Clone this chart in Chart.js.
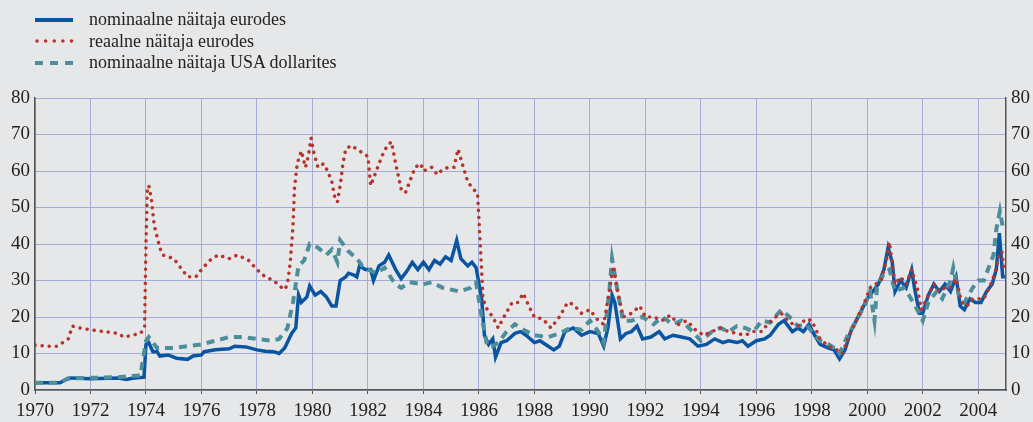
<!DOCTYPE html>
<html>
<head>
<meta charset="utf-8">
<script src="https://cdn.jsdelivr.net/npm/chart.js@4"></script>
<style>
  body { margin: 0; background: #e6e7e9; }
  #wrap { position: relative; width: 1033px; height: 422px; }
  #legend { position: absolute; left: 35px; top: 9px; font-family: "Liberation Serif", serif; font-size: 18px; color: #222; }
  .row { height: 21.5px; display: flex; align-items: center; }
  .row svg { margin-right: 14px; }
</style>
</head>
<body>
<div id="wrap">
  <canvas id="oilChart" width="1033" height="422"></canvas>
  <div id="legend"></div>
</div>
<script>
// series names
const seriesNames = ['nominaalne näitaja eurodes', 'reaalne näitaja eurodes', 'nominaalne näitaja USA dollarites'];

// nominal, EUR
const nomEurYears = [1970, 1970.9, 1971.1, 1971.3, 1972.0, 1973.0, 1973.3, 1973.5, 1973.93, 1974.0, 1974.1, 1974.25, 1974.4, 1974.5, 1974.8, 1975.1, 1975.5, 1975.7, 1976.0, 1976.1, 1976.5, 1977.0, 1977.2, 1977.6, 1978.0, 1978.3, 1978.6, 1978.8, 1979.0, 1979.25, 1979.4, 1979.5, 1979.6, 1979.8, 1979.9, 1980.1, 1980.3, 1980.5, 1980.7, 1980.85, 1981.0, 1981.2, 1981.3, 1981.5, 1981.6, 1981.7, 1981.9, 1982.1, 1982.2, 1982.4, 1982.6, 1982.75, 1983.0, 1983.2, 1983.4, 1983.6, 1983.8, 1984.0, 1984.2, 1984.4, 1984.6, 1984.8, 1985.0, 1985.2, 1985.35, 1985.6, 1985.75, 1985.9, 1986.1, 1986.2, 1986.35, 1986.5, 1986.6, 1986.8, 1987.0, 1987.3, 1987.5, 1987.7, 1988.0, 1988.2, 1988.5, 1988.7, 1988.9, 1989.1, 1989.4, 1989.7, 1990.0, 1990.3, 1990.5, 1990.65, 1990.8, 1990.9, 1991.1, 1991.3, 1991.5, 1991.7, 1991.9, 1992.2, 1992.5, 1992.7, 1993.0, 1993.3, 1993.6, 1993.9, 1994.2, 1994.5, 1994.8, 1995.0, 1995.3, 1995.5, 1995.7, 1996.0, 1996.3, 1996.5, 1996.8, 1997.0, 1997.3, 1997.5, 1997.7, 1997.9, 1998.1, 1998.3, 1998.6, 1998.8, 1999.0, 1999.2, 1999.4, 1999.6, 1999.8, 2000.0, 2000.2, 2000.4, 2000.6, 2000.75, 2000.9, 2001.0, 2001.2, 2001.4, 2001.6, 2001.7, 2001.88, 2002.0, 2002.2, 2002.4, 2002.6, 2002.8, 2003.0, 2003.2, 2003.35, 2003.5, 2003.7, 2003.9, 2004.1, 2004.3, 2004.5, 2004.65, 2004.76, 2004.88, 2004.96];
const nomEurValues = [2.0, 2.0, 2.8, 3.3, 3.1, 3.3, 2.9, 3.2, 3.5, 12.5, 13, 10.5, 10.5, 9.3, 9.6, 8.7, 8.4, 9.3, 9.6, 10.5, 11, 11.3, 12, 11.8, 11, 10.6, 10.5, 10, 11.5, 15.5, 17, 26, 24, 25.5, 28.5, 26, 27, 25.5, 23, 23, 30, 31, 32, 31.5, 31, 34, 33, 33, 30, 34, 35, 37, 33, 30.5, 32.5, 35, 33, 35, 33, 35.5, 34.5, 36.5, 35.5, 41, 36, 34, 35, 33.5, 25, 15, 12.5, 14, 9, 13, 13.5, 15.5, 16, 15, 13, 13.5, 12, 11, 12, 16, 17, 15, 16, 15.5, 12, 17, 26, 24, 14, 15.5, 16, 17.5, 14, 14.5, 16, 14, 15, 14.5, 14, 12, 12.5, 14, 13, 13.5, 13, 13.5, 12, 13.5, 14, 15, 18, 19, 16, 17, 16, 18, 15, 12.5, 11.5, 11, 8.5, 11, 16, 19, 22, 25, 27, 29, 33, 39, 35, 27, 30, 28, 33, 28, 21, 21, 26, 29, 27, 29, 27, 31, 23, 22, 25, 24, 24, 27, 29, 33, 43, 31, 31];

// real, EUR
const realEurYears = [1970, 1970.5, 1970.8, 1971.0, 1971.2, 1971.35, 1971.6, 1972.0, 1972.5, 1973.0, 1973.2, 1973.5, 1973.8, 1973.95, 1974.0, 1974.05, 1974.1, 1974.2, 1974.3, 1974.4, 1974.5, 1974.6, 1975.0, 1975.2, 1975.5, 1975.8, 1976.0, 1976.3, 1976.6, 1977.0, 1977.3, 1977.7, 1978.0, 1978.3, 1978.6, 1978.9, 1979.0, 1979.1, 1979.2, 1979.3, 1979.35, 1979.45, 1979.6, 1979.75, 1979.85, 1979.95, 1980.05, 1980.2, 1980.4, 1980.55, 1980.7, 1980.8, 1980.9, 1981.0, 1981.1, 1981.2, 1981.4, 1981.6, 1981.8, 1982.0, 1982.1, 1982.3, 1982.5, 1982.7, 1982.85, 1983.0, 1983.2, 1983.35, 1983.5, 1983.7, 1983.9, 1984.0, 1984.3, 1984.5, 1984.7, 1984.9, 1985.1, 1985.25, 1985.4, 1985.6, 1985.8, 1985.95, 1986.05, 1986.15, 1986.3, 1986.5, 1986.7, 1986.9, 1987.2, 1987.4, 1987.6, 1987.8, 1988.0, 1988.3, 1988.6, 1988.9, 1989.2, 1989.4, 1989.7, 1990.0, 1990.3, 1990.5, 1990.7, 1990.85, 1991.0, 1991.2, 1991.5, 1991.8, 1992.0, 1992.3, 1992.6, 1992.9, 1993.2, 1993.5, 1993.8, 1994.1, 1994.4, 1994.7, 1995.0, 1995.3, 1995.6, 1995.9, 1996.2, 1996.4, 1996.7, 1996.9, 1997.2, 1997.5, 1997.8, 1998.0, 1998.3, 1998.6, 1998.9, 1999.1, 1999.3, 1999.6, 1999.9, 2000.1, 2000.3, 2000.5, 2000.7, 2000.8, 2001.0, 2001.2, 2001.4, 2001.6, 2001.8, 2001.95, 2002.2, 2002.4, 2002.6, 2002.8, 2003.0, 2003.2, 2003.4, 2003.6, 2003.8, 2004.0, 2004.2, 2004.4, 2004.6, 2004.75, 2004.85, 2004.95];
const realEurValues = [12.3, 12, 12, 13, 14, 17.5, 17, 16.5, 16, 15.5, 14.5, 15, 15.5, 17, 40, 55.5, 56, 52, 45, 42, 39, 37, 36, 34, 31, 31, 33, 35.5, 37, 36, 37, 35.5, 33, 31, 30, 28, 27.5, 29, 35, 45, 55, 62, 65.5, 61, 64, 69, 65, 61, 62, 60, 57, 53, 51.5, 56, 62, 66, 67, 66, 65, 64, 56, 60, 64, 67, 68, 62, 55, 54, 57, 61, 62, 60, 61, 59, 60.5, 61, 61, 66, 62, 57, 55, 54, 40, 25, 22, 20, 17, 20, 24, 24, 26.5, 23, 20, 19.5, 17, 20, 24, 23.5, 21, 22, 19, 18, 27, 34, 27, 20, 21, 23, 20, 20, 19, 20.5, 18, 19, 16.5, 15, 16, 17, 16, 15.5, 15, 16, 16, 18, 20, 21, 18.5, 17.5, 19.5, 19, 14, 12, 11, 10, 14, 19, 24, 28, 29, 30, 36, 40.5, 29, 31, 29, 33, 28, 22, 26, 29, 27, 28, 28, 30.5, 24, 23, 25, 25, 25, 28, 32, 37, 38, 32];

// nominal, USD
const nomUsdYears = [1970, 1970.9, 1971.2, 1973.0, 1973.8, 1974.0, 1974.1, 1974.4, 1975.0, 1976.0, 1977.0, 1977.5, 1978.0, 1978.5, 1978.8, 1979.1, 1979.3, 1979.5, 1979.7, 1979.9, 1980.2, 1980.5, 1980.7, 1980.9, 1981.0, 1981.3, 1981.6, 1981.8, 1982.0, 1982.3, 1982.6, 1982.9, 1983.0, 1983.2, 1983.5, 1984.0, 1984.3, 1984.7, 1985.0, 1985.3, 1985.7, 1985.9, 1986.1, 1986.3, 1986.5, 1986.7, 1987.0, 1987.3, 1987.6, 1988.0, 1988.5, 1988.9, 1989.3, 1989.7, 1990.0, 1990.3, 1990.5, 1990.7, 1990.8, 1991.0, 1991.2, 1991.5, 1991.9, 1992.3, 1992.6, 1993.0, 1993.3, 1993.7, 1994.0, 1994.4, 1994.7, 1995.0, 1995.3, 1995.6, 1995.9, 1996.2, 1996.5, 1996.9, 1997.2, 1997.5, 1997.8, 1998.0, 1998.3, 1998.6, 1998.9, 1999.0, 1999.3, 1999.6, 1999.9, 2000.1, 2000.26, 2000.35, 2000.6, 2000.8, 2001.0, 2001.3, 2001.5, 2001.8, 2002.0, 2002.2, 2002.5, 2002.7, 2003.0, 2003.1, 2003.3, 2003.5, 2003.8, 2004.0, 2004.2, 2004.4, 2004.55, 2004.65, 2004.78, 2004.9];
const nomUsdValues = [2, 2, 3.2, 3.5, 4, 13.5, 14.5, 11.5, 11.5, 12.5, 14.5, 14.5, 14, 13.5, 14, 17, 24, 34, 35.5, 40, 39, 37, 38.5, 35, 41, 38, 36, 34, 33, 32, 33.5, 30, 29, 28, 29.5, 29, 29.5, 28, 27.5, 27, 28, 29.5, 20, 12, 12, 13, 16, 18, 16.5, 15, 14.5, 15.5, 17, 16.5, 19, 16, 13, 27, 36, 27, 19, 19, 20, 18, 20, 18, 19, 16, 13.5, 16, 17, 16, 17.5, 17, 16, 19, 18.5, 22, 20, 17.5, 18, 16, 13.5, 12.5, 11, 10, 15, 19, 23, 27, 19, 28, 32, 33, 27, 28, 26, 22, 19, 24, 27, 25, 30, 33.5, 26, 24, 28, 30, 30, 34, 37, 44, 49, 44];

const yearTicks = [1970, 1972, 1974, 1976, 1978, 1980, 1982, 1984, 1986, 1988, 1990, 1992, 1994, 1996, 1998, 2000, 2002, 2004];
const valueTicks = [0, 10, 20, 30, 40, 50, 60, 70, 80];

const colors = ['#0a55a2', '#b7342c', '#4d8e9b'];

function toPoints(xs, ys) {
    return xs.map((x, i) => ({ x: x, y: ys[i] }));
}

// legend drawn as html, one row per series
const legendStyles = [
    '<line x1="0" y1="6" x2="38" y2="6" stroke="' + colors[0] + '" stroke-width="4"/>',
    '<line x1="2" y1="6" x2="38" y2="6" stroke="' + colors[1] + '" stroke-width="3.5" stroke-linecap="round" stroke-dasharray="0.1 8.5"/>',
    '<line x1="0" y1="6" x2="38" y2="6" stroke="' + colors[2] + '" stroke-width="4" stroke-dasharray="8 7"/>'
];
document.getElementById('legend').innerHTML = seriesNames.map((name, i) =>
    '<div class="row"><svg width="40" height="12">' + legendStyles[i] + '</svg><span>' + name + '</span></div>'
).join('');

const font = { family: '"Liberation Serif", serif', size: 19 };

const yScale = (pos, width) => ({
    type: 'linear',
    position: pos,
    min: 0,
    max: 80,
    afterBuildTicks: scale => { scale.ticks = valueTicks.map(v => ({ value: v })); },
    afterFit: scale => { scale.width = width; },
    grid: { display: pos === 'left', color: '#a3acd6', lineWidth: 1, drawTicks: false },
    border: { display: true, color: '#555', width: 1.5 },
    ticks: { color: '#222', font: font, padding: pos === 'left' ? 5 : 5 }
});

new Chart(document.getElementById('oilChart').getContext('2d'), {
    type: 'line',
    data: {
        datasets: [
            {
                label: seriesNames[0],
                data: toPoints(nomEurYears, nomEurValues),
                borderColor: colors[0],
                borderWidth: 3.5,
                order: 3
            },
            {
                label: seriesNames[2],
                data: toPoints(nomUsdYears, nomUsdValues),
                borderColor: colors[2],
                borderWidth: 4,
                borderDash: [8, 6],
                order: 2
            },
            {
                label: seriesNames[1],
                data: toPoints(realEurYears, realEurValues),
                borderColor: colors[1],
                borderWidth: 3.5,
                borderDash: [0.1, 7],
                borderCapStyle: 'round',
                order: 1
            }
        ]
    },
    options: {
        responsive: false,
        animation: false,
        events: [],
        layout: { padding: { top: 98, left: 0, right: 0, bottom: 0 } },
        elements: { point: { radius: 0 }, line: { tension: 0, fill: false } },
        plugins: { legend: { display: false }, tooltip: { enabled: false } },
        scales: {
            x: {
                type: 'linear',
                min: 1970,
                max: 2005,
                afterBuildTicks: scale => { scale.ticks = yearTicks.map(v => ({ value: v })); },
                afterFit: scale => { scale.height = 32; },
                grid: {
                    color: '#a3acd6',
                    lineWidth: 1,
                    tickColor: '#555',
                    tickLength: 4
                },
                border: { display: true, color: '#555', width: 1.5 },
                ticks: { color: '#222', font: font, padding: 6, maxRotation: 0, autoSkip: false, callback: v => String(v) }
            },
            y: yScale('left', 35),
            y2: yScale('right', 27)
        }
    }
});
</script>
</body>
</html>
